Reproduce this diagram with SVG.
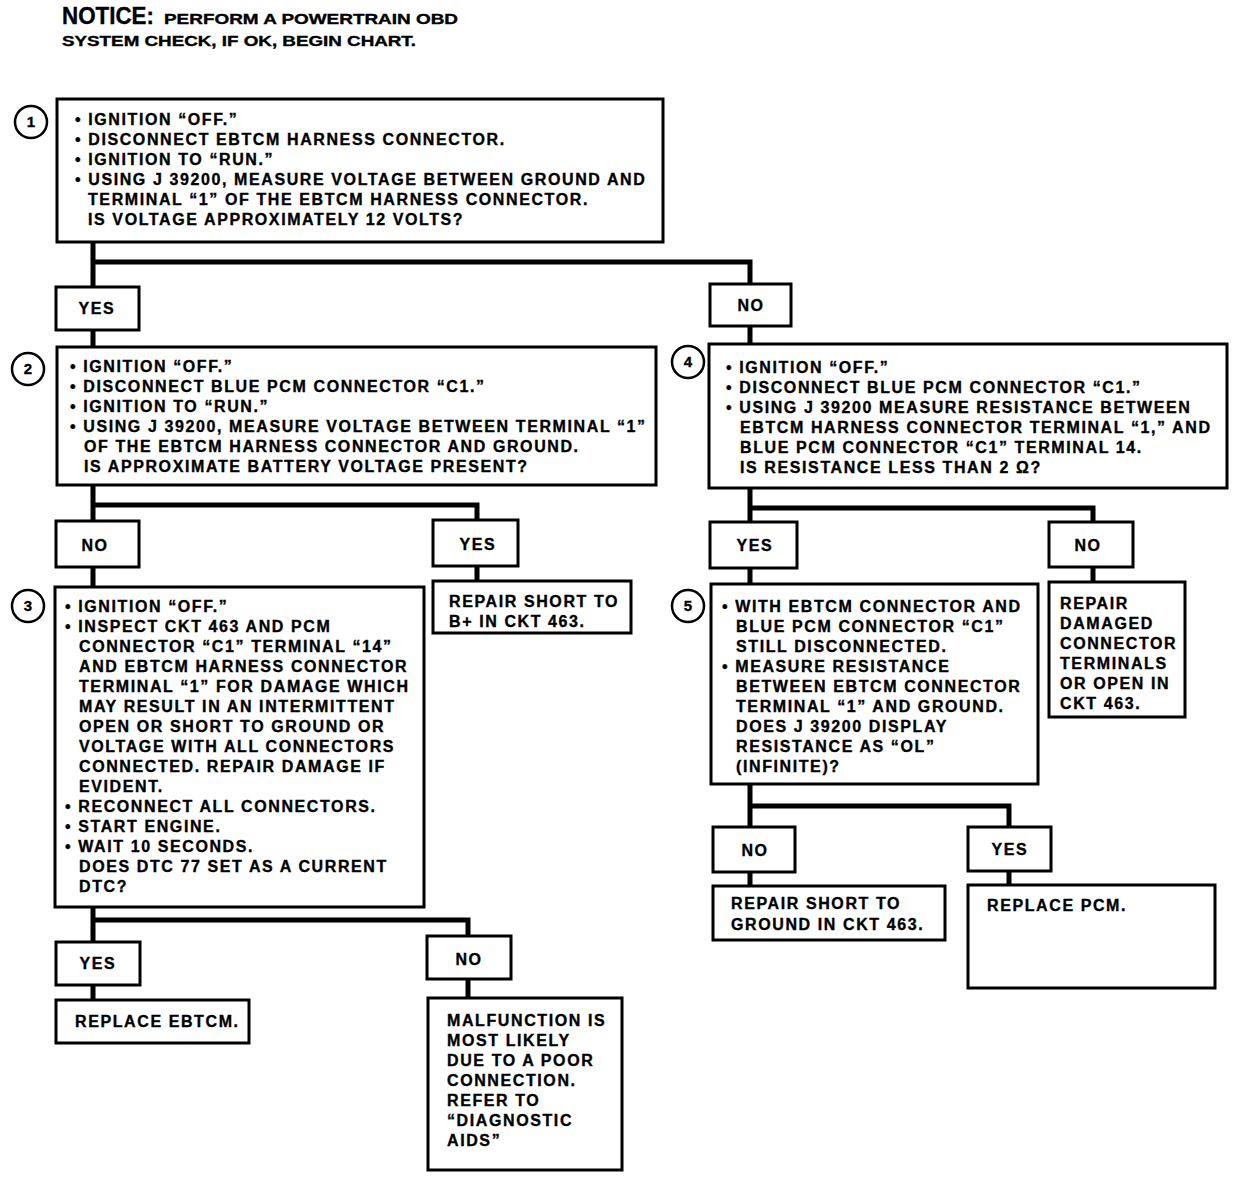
<svg xmlns="http://www.w3.org/2000/svg" width="1248" height="1190" viewBox="0 0 1248 1190">
<style>
.bg{fill:#fff}
.box{fill:#fff;stroke:#000;stroke-width:3}
.num{fill:#fff;stroke:#000;stroke-width:2.5}
.conn{fill:none;stroke:#000;stroke-width:5;stroke-linejoin:miter;stroke-linecap:square}
text{font-family:"Liberation Sans",Arial,Helvetica,sans-serif;font-weight:bold;fill:#000;stroke:#000;stroke-width:0.35}
.t{font-size:16px;letter-spacing:1.6px}
.lbl{font-size:16px;letter-spacing:1.6px;text-anchor:middle}
.n{font-size:15px;text-anchor:middle}
.nt{font-size:23px}
.ns{font-size:14px}
</style>
<rect class="bg" width="1248" height="1190"/>
<g id="notice">
<text class="nt" x="62" y="24" textLength="92" lengthAdjust="spacingAndGlyphs">NOTICE:</text>
<text class="ns" x="164" y="24" textLength="294" lengthAdjust="spacingAndGlyphs">PERFORM A POWERTRAIN OBD</text>
<text class="ns" x="62" y="46" textLength="354" lengthAdjust="spacingAndGlyphs">SYSTEM CHECK, IF OK, BEGIN CHART.</text>
</g>
<g id="connectors">
<path class="conn" d="M93,242 V287 M93,262 H750 V284"/>
<path class="conn" d="M93,330 V347 M750,326 V344"/>
<path class="conn" d="M93,485 V521 M93,505 H477 V520"/>
<path class="conn" d="M93,567 V587 M477,566 V581"/>
<path class="conn" d="M750,488 V522 M750,508 H1093 V522"/>
<path class="conn" d="M750,568 V584 M1093,567 V582"/>
<path class="conn" d="M93,907 V942 M93,920 H468 V936"/>
<path class="conn" d="M93,985 V1000 M468,979 V998"/>
<path class="conn" d="M750,784 V827 M750,806 H1009 V827"/>
<path class="conn" d="M750,872 V886 M1009,871 V885"/>
</g>
<g id="step1">
<circle class="num" cx="31" cy="122" r="16"/>
<text class="n" x="31" y="127">1</text>
<rect class="box" x="57" y="99" width="606" height="143"/>
<text class="t" x="75" y="125">• IGNITION “OFF.”</text>
<text class="t" x="75" y="145">• DISCONNECT EBTCM HARNESS CONNECTOR.</text>
<text class="t" x="75" y="165">• IGNITION TO “RUN.”</text>
<text class="t" x="75" y="185">• USING J 39200, MEASURE VOLTAGE BETWEEN GROUND AND</text>
<text class="t" x="88" y="205">TERMINAL “1” OF THE EBTCM HARNESS CONNECTOR.</text>
<text class="t" x="88" y="225">IS VOLTAGE APPROXIMATELY 12 VOLTS?</text>
</g>
<g id="yes1"><rect class="box" x="56" y="287" width="83" height="43"/><text class="lbl" x="97" y="314">YES</text></g>
<g id="no1"><rect class="box" x="710" y="284" width="81" height="42"/><text class="lbl" x="751" y="311">NO</text></g>
<g id="step2">
<circle class="num" cx="28" cy="369" r="16"/>
<text class="n" x="28" y="374">2</text>
<rect class="box" x="57" y="347" width="599" height="138"/>
<text class="t" x="70" y="372">• IGNITION “OFF.”</text>
<text class="t" x="70" y="392">• DISCONNECT BLUE PCM CONNECTOR “C1.”</text>
<text class="t" x="70" y="412">• IGNITION TO “RUN.”</text>
<text class="t" x="70" y="432">• USING J 39200, MEASURE VOLTAGE BETWEEN TERMINAL “1”</text>
<text class="t" x="84" y="452">OF THE EBTCM HARNESS CONNECTOR AND GROUND.</text>
<text class="t" x="84" y="472">IS APPROXIMATE BATTERY VOLTAGE PRESENT?</text>
</g>
<g id="step4">
<circle class="num" cx="688" cy="362" r="16"/>
<text class="n" x="688" y="367">4</text>
<rect class="box" x="709" y="344" width="518" height="144"/>
<text class="t" x="726" y="373">• IGNITION “OFF.”</text>
<text class="t" x="726" y="393">• DISCONNECT BLUE PCM CONNECTOR “C1.”</text>
<text class="t" x="726" y="413">• USING J 39200 MEASURE RESISTANCE BETWEEN</text>
<text class="t" x="740" y="433">EBTCM HARNESS CONNECTOR TERMINAL “1,” AND</text>
<text class="t" x="740" y="453">BLUE PCM CONNECTOR “C1” TERMINAL 14.</text>
<text class="t" x="740" y="473">IS RESISTANCE LESS THAN 2 Ω?</text>
</g>
<g id="no2"><rect class="box" x="56" y="521" width="83" height="46"/><text class="lbl" x="95" y="551">NO</text></g>
<g id="yes2"><rect class="box" x="433" y="520" width="85" height="46"/><text class="lbl" x="478" y="550">YES</text></g>
<g id="repairB"><rect class="box" x="433" y="581" width="198" height="52"/>
<text class="t" x="449" y="607">REPAIR SHORT TO</text>
<text class="t" x="449" y="627">B+ IN CKT 463.</text></g>
<g id="yes4"><rect class="box" x="710" y="522" width="87" height="46"/><text class="lbl" x="755" y="551">YES</text></g>
<g id="no4"><rect class="box" x="1049" y="522" width="84" height="45"/><text class="lbl" x="1088" y="551">NO</text></g>
<g id="step3">
<circle class="num" cx="28" cy="606" r="16"/>
<text class="n" x="28" y="611">3</text>
<rect class="box" x="55" y="587" width="369" height="320"/>
<text class="t" x="65" y="612">• IGNITION “OFF.”</text>
<text class="t" x="65" y="632">• INSPECT CKT 463 AND PCM</text>
<text class="t" x="79" y="652">CONNECTOR “C1” TERMINAL “14”</text>
<text class="t" x="79" y="672">AND EBTCM HARNESS CONNECTOR</text>
<text class="t" x="79" y="692">TERMINAL “1” FOR DAMAGE WHICH</text>
<text class="t" x="79" y="712">MAY RESULT IN AN INTERMITTENT</text>
<text class="t" x="79" y="732">OPEN OR SHORT TO GROUND OR</text>
<text class="t" x="79" y="752">VOLTAGE WITH ALL CONNECTORS</text>
<text class="t" x="79" y="772">CONNECTED. REPAIR DAMAGE IF</text>
<text class="t" x="79" y="792">EVIDENT.</text>
<text class="t" x="65" y="812">• RECONNECT ALL CONNECTORS.</text>
<text class="t" x="65" y="832">• START ENGINE.</text>
<text class="t" x="65" y="852">• WAIT 10 SECONDS.</text>
<text class="t" x="79" y="872">DOES DTC 77 SET AS A CURRENT</text>
<text class="t" x="79" y="892">DTC?</text>
</g>
<g id="step5">
<circle class="num" cx="688" cy="606" r="16"/>
<text class="n" x="688" y="611">5</text>
<rect class="box" x="711" y="584" width="327" height="200"/>
<text class="t" x="722" y="612">• WITH EBTCM CONNECTOR AND</text>
<text class="t" x="736" y="632">BLUE PCM CONNECTOR “C1”</text>
<text class="t" x="736" y="652">STILL DISCONNECTED.</text>
<text class="t" x="722" y="672">• MEASURE RESISTANCE</text>
<text class="t" x="736" y="692">BETWEEN EBTCM CONNECTOR</text>
<text class="t" x="736" y="712">TERMINAL “1” AND GROUND.</text>
<text class="t" x="736" y="732">DOES J 39200 DISPLAY</text>
<text class="t" x="736" y="752">RESISTANCE AS “OL”</text>
<text class="t" x="736" y="772">(INFINITE)?</text>
</g>
<g id="repairDamaged"><rect class="box" x="1049" y="582" width="136" height="135"/>
<text class="t" x="1060" y="609">REPAIR</text>
<text class="t" x="1060" y="629">DAMAGED</text>
<text class="t" x="1060" y="649">CONNECTOR</text>
<text class="t" x="1060" y="669">TERMINALS</text>
<text class="t" x="1060" y="689">OR OPEN IN</text>
<text class="t" x="1060" y="709">CKT 463.</text></g>
<g id="no5"><rect class="box" x="713" y="827" width="82" height="45"/><text class="lbl" x="755" y="856">NO</text></g>
<g id="yes5"><rect class="box" x="968" y="827" width="83" height="44"/><text class="lbl" x="1010" y="855">YES</text></g>
<g id="repairGround"><rect class="box" x="713" y="886" width="232" height="54"/>
<text class="t" x="731" y="909">REPAIR SHORT TO</text>
<text class="t" x="731" y="930">GROUND IN CKT 463.</text></g>
<g id="replacePCM"><rect class="box" x="968" y="885" width="247" height="103"/>
<text class="t" x="987" y="911">REPLACE PCM.</text></g>
<g id="yes3"><rect class="box" x="56" y="942" width="84" height="43"/><text class="lbl" x="98" y="969">YES</text></g>
<g id="no3"><rect class="box" x="427" y="936" width="84" height="43"/><text class="lbl" x="469" y="965">NO</text></g>
<g id="replaceEBTCM"><rect class="box" x="56" y="1000" width="193" height="43"/>
<text class="t" x="75" y="1027">REPLACE EBTCM.</text></g>
<g id="malfunction"><rect class="box" x="428" y="998" width="194" height="172"/>
<text class="t" x="447" y="1026">MALFUNCTION IS</text>
<text class="t" x="447" y="1046">MOST LIKELY</text>
<text class="t" x="447" y="1066">DUE TO A POOR</text>
<text class="t" x="447" y="1086">CONNECTION.</text>
<text class="t" x="447" y="1106">REFER TO</text>
<text class="t" x="447" y="1126">“DIAGNOSTIC</text>
<text class="t" x="447" y="1146">AIDS”</text></g>
</svg>
